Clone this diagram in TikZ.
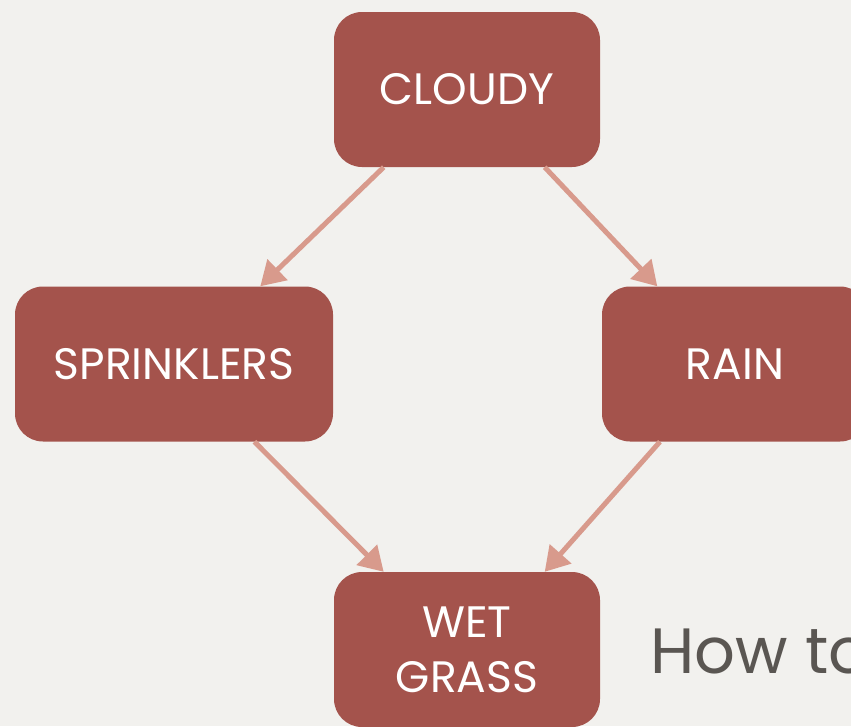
\documentclass[tikz,border=0pt]{standalone}
\usepackage{fontspec}
\setmainfont{Poppins}
\usetikzlibrary{arrows.meta}
\definecolor{paper}{RGB}{242,241,238}
\definecolor{brick}{RGB}{164,83,76}
\definecolor{salmon}{RGB}{216,154,140}
\definecolor{slate}{RGB}{90,86,82}

\begin{document}
\begin{tikzpicture}[x=1pt, y=-1pt,
    box/.style={rectangle, rounded corners=28pt, fill=brick, text=white,
        minimum width=266pt, minimum height=155pt, inner sep=0pt, align=center,
        font=\fontsize{44}{55}\selectfont},
    link/.style={draw=salmon, line width=5pt, -{Triangle[length=24pt, width=28pt]}}]
    % Cadre de la page et fond
    \useasboundingbox (0,0) rectangle (851,726);
    \clip (0,0) rectangle (851,726);
    \fill[paper] (0,0) rectangle (851,726);

    % Les quatre noeuds
    \node[box] (cloudy) at (467,89.5) {CLOUDY};
    \node[box, minimum width=318pt] (sprinklers) at (174,364) {SPRINKLERS};
    \node[box] (rain) at (735,364) {RAIN};
    \node[box] (wetgrass) at (467,649.5) {WET\\GRASS};

    % Texte coupe a droite
    \node[anchor=base west, inner sep=0pt, text=slate, font=\fontsize{64}{70}\selectfont] (howto) at (650,673) {How to};

    % Les fleches
    \draw[link] (cloudy.-137) -- (sprinklers.42);
    \draw[link] (cloudy.-45) -- (rain.135);
    \draw[link] (sprinklers.-44) -- (wetgrass.137);
    \draw[link] (rain.-134) -- (wetgrass.45);
\end{tikzpicture}
\end{document}
